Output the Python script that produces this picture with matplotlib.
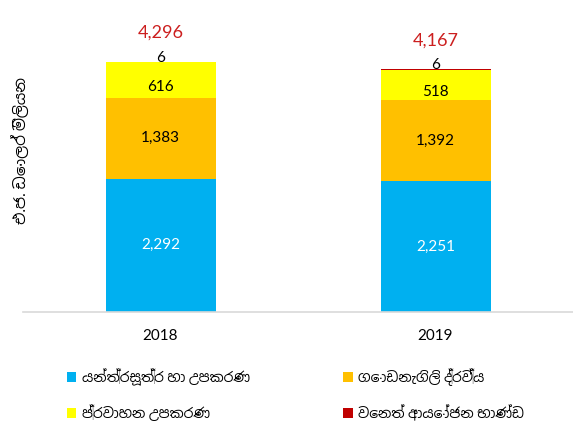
import numpy as np
import matplotlib
matplotlib.use("Agg")
import matplotlib.pyplot as plt
from matplotlib import font_manager
from matplotlib.patches import Patch

years = ["2018", "2019"]
machinery = [2292, 2251]
building = [1383, 1392]
transport = [616, 518]
other = [6, 6]
totals = [4296, 4167]
series_names = ["යන්ත්‍රසූත්‍ර හා උපකරණ", "ගොඩනැගිලි ද්‍රව්‍ය",
                "ප්‍රවාහන උපකරණ", "වෙනත් ආයෝජන භාණ්ඩ"]
colors = ["#00B0F0", "#FFC000", "#FFFF00", "#C00000"]
ylabel = "එ.ජ. ඩොලර් මිලියන"

# use a Sinhala font if one happens to exist
names = [f.name for f in font_manager.fontManager.ttflist]
fams = ["Lato"]
for n in names:
    if "Sinhala" in n and n not in fams:
        fams.append(n)
fams.append("DejaVu Sans")
plt.rcParams["font.family"] = fams

fig = plt.figure(figsize=(5.73, 4.28), dpi=100)
ax = fig.add_axes([23 / 573, 1 - 312 / 428, 550 / 573, 291 / 428])

x = np.arange(len(years))
w = 0.4
bottom = np.zeros(len(years))
stack = [machinery, building, transport, other]
for vals, c in zip(stack, colors):
    ax.bar(x, vals, w, bottom=bottom, color=c, edgecolor="none")
    bottom += np.array(vals)

# segment labels
b = np.zeros(len(years))
for k, vals in enumerate(stack[:3]):
    for i, v in enumerate(vals):
        y = b[i] + v / 2
        if k == 2:
            y -= 115  # excel puts these a bit low
        ax.text(x[i], y, f"{v:,}", ha="center", va="center",
                fontsize=11, color="white" if k == 0 else "black")
    b += np.array(vals)
for i, v in enumerate(other):
    ax.text(x[i], bottom[i] + 75, f"{v:,}", ha="center", va="center",
            fontsize=11, color="black")
for i, t in enumerate(totals):
    ax.text(x[i], t + 500, f"{t:,}", ha="center", va="center",
            fontsize=13, color="#CC1F1F")

ax.set_xlim(-0.5, 1.5)
ax.set_ylim(0, 5000)
ax.set_yticks([])
ax.set_xticks(x)
ax.set_xticklabels(years, fontsize=11)
ax.tick_params(axis="x", length=0, pad=12)
for s in ["top", "right", "left"]:
    ax.spines[s].set_visible(False)
ax.spines["bottom"].set_color("#D9D9D9")
ax.spines["bottom"].set_linewidth(1.2)

fig.text(20 / 573, 1 - 150 / 428, ylabel, rotation=90, ha="center",
         va="center", fontsize=11)

# legend fills by column, so reorder to get row-wise layout
order = [0, 2, 1, 3]
handles = [Patch(facecolor=colors[i]) for i in order]
labels = [series_names[i] for i in order]
fig.legend(handles, labels, loc="upper left", ncol=2,
           bbox_to_anchor=(54 / 573, 1 - 356 / 428), frameon=False,
           fontsize=10, handlelength=0.7, handleheight=0.7,
           handletextpad=0.4, columnspacing=6.7, labelspacing=1.3)

fig.savefig("out.png", dpi=100)
